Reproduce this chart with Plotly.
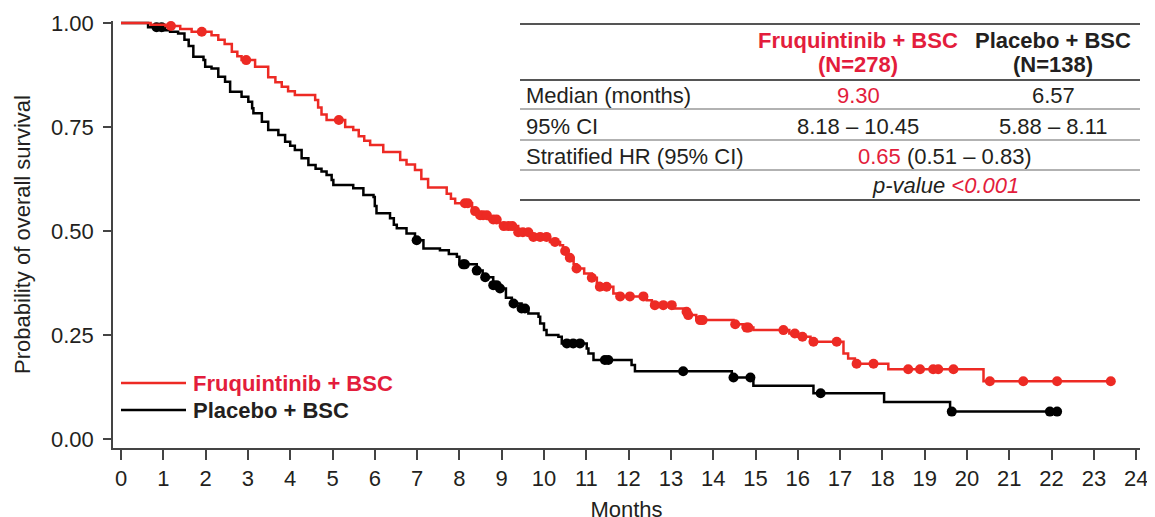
import numpy as np
import plotly.graph_objects as go

# ---------------- data ----------------
# Fruquintinib + BSC: step times (months) and survival after each step
fruq_time = [0, 0.70, 1.05, 1.40, 1.67, 2.14, 2.30, 2.45, 2.62, 2.75, 2.85, 3.17, 3.48, 3.65,
             3.80, 3.95, 4.11, 4.59, 4.66, 4.74, 4.86, 5.30, 5.49, 5.62, 5.75, 5.89, 6.20,
             6.60, 6.75, 6.95, 7.10, 7.26, 7.70, 7.80, 7.90, 8.30, 8.41, 8.70, 8.96, 9.39,
             9.67, 10.14, 10.38, 10.45, 10.54, 10.70, 10.77, 10.95, 11.13, 11.25, 11.32,
             11.64, 11.80, 12.43, 12.55, 13.06, 13.30, 13.41, 13.60, 14.48, 14.70, 14.95,
             15.80, 16.00, 16.30, 17.08, 17.19, 17.35, 18.14, 20.39]
fruq_surv = [1.000, 0.996, 0.993, 0.986, 0.979, 0.971, 0.960, 0.950, 0.931, 0.920, 0.911,
             0.895, 0.870, 0.858, 0.847, 0.836, 0.827, 0.815, 0.797, 0.780, 0.767, 0.750,
             0.743, 0.728, 0.717, 0.707, 0.690, 0.671, 0.660, 0.647, 0.625, 0.605, 0.590,
             0.578, 0.567, 0.548, 0.538, 0.528, 0.512, 0.497, 0.486, 0.474, 0.466, 0.452,
             0.436, 0.420, 0.410, 0.398, 0.388, 0.375, 0.366, 0.350, 0.343, 0.334, 0.322,
             0.314, 0.306, 0.298, 0.286, 0.276, 0.268, 0.262, 0.254, 0.246, 0.234, 0.206,
             0.194, 0.181, 0.168, 0.139]
fruq_end = 23.40
fruq_censor = [1.18, 1.91, 2.96, 5.15, 8.13, 8.20, 8.37, 8.49, 8.56, 8.65, 8.80, 8.88, 9.05,
               9.16, 9.25, 9.39, 9.50, 9.63, 9.75, 9.91, 10.06, 10.26, 10.50, 10.61, 10.77,
               11.13, 11.32, 11.48, 11.80, 12.03, 12.35, 12.62, 12.82, 13.02, 13.37, 13.41,
               13.69, 13.75, 14.52, 14.79, 14.83, 15.66, 15.93, 16.11, 16.37, 16.92, 17.39,
               17.79, 18.61, 18.89, 19.20, 19.32, 19.68, 20.54, 21.33, 22.13, 23.40]

# Placebo + BSC
plac_time = [0, 0.64, 0.98, 1.16, 1.35, 1.50, 1.60, 1.71, 1.95, 1.99, 2.14, 2.30, 2.46, 2.58,
             2.85, 3.01, 3.10, 3.13, 3.33, 3.48, 3.72, 3.88, 4.00, 4.11, 4.27, 4.43, 4.60,
             4.74, 4.86, 4.98, 5.02, 5.49, 5.73, 5.97, 6.00, 6.04, 6.36, 6.45, 6.52, 6.75,
             6.95, 7.15, 7.54, 7.75, 7.94, 8.00, 8.41, 8.55, 8.61, 8.80, 8.92, 9.10, 9.24,
             9.47, 9.63, 9.87, 9.91, 10.00, 10.06, 10.34, 10.42, 11.01, 11.05, 11.17, 12.07,
             12.15, 14.44, 14.95, 16.37, 18.04, 19.60]
plac_surv = [1.000, 0.990, 0.983, 0.979, 0.975, 0.960, 0.945, 0.919, 0.911, 0.895, 0.891,
             0.871, 0.859, 0.835, 0.823, 0.811, 0.795, 0.783, 0.763, 0.743, 0.731, 0.715,
             0.705, 0.695, 0.675, 0.659, 0.650, 0.643, 0.635, 0.623, 0.611, 0.603, 0.587,
             0.582, 0.560, 0.543, 0.531, 0.515, 0.507, 0.494, 0.478, 0.458, 0.454, 0.445,
             0.438, 0.420, 0.405, 0.395, 0.389, 0.370, 0.362, 0.340, 0.326, 0.314, 0.302,
             0.294, 0.278, 0.262, 0.250, 0.246, 0.230, 0.218, 0.206, 0.190, 0.178, 0.163,
             0.148, 0.128, 0.110, 0.089, 0.066]
plac_end = 22.13
plac_censor = [0.84, 0.96, 6.99, 8.09, 8.13, 8.41, 8.61, 8.80, 8.88, 8.96, 9.28, 9.47, 9.55,
               10.54, 10.69, 10.85, 11.44, 11.52, 13.29, 14.48, 14.88, 16.54, 19.64, 21.96,
               22.13]

x_tick_vals = list(range(0, 25))
y_tick_vals = [0.0, 0.25, 0.50, 0.75, 1.00]
y_tick_text = ["0.00", "0.25", "0.50", "0.75", "1.00"]

arm_names = ["Fruquintinib + BSC", "Placebo + BSC"]
arm_n = ["(N=278)", "(N=138)"]
row_labels = ["Median (months)", "95% CI", "Stratified HR (95% CI)"]
median_vals = ["9.30", "6.57"]
ci_vals = ["8.18 – 10.45", "5.88 – 8.11"]
hr_val = "0.65"
hr_ci = "(0.51 – 0.83)"
p_label = "p-value"
p_val = "<0.001"

# ---------------- styling ----------------
RED_LINE = "#ED2A24"
RED_TEXT = "#E31D3C"
BLACK = "#000000"
TXT = "#231F20"
FONT = "Liberation Sans, Arial, Helvetica, sans-serif"
FS = 22

# the page body adds an 8px offset; layout below is given in window pixels
OFF = 8
WIN_W, WIN_H = 1155, 517
W, H = WIN_W - OFF, WIN_H - 3
L, R, T, B = 113, 1140, 21, 448          # plot area in window pixels
PX_PER_MONTH = 42.3
X0_PX = 121
x_lo = (L - X0_PX) / PX_PER_MONTH
x_hi = x_lo + (R - L) / PX_PER_MONTH
y_top = 1.005
y_lo = y_top - (B - T) / 416.0


def px(x):
    return (x - L) / (R - L)


def py(y):
    return (B - y) / (B - T)


def step_value(times, surv, t):
    idx = np.searchsorted(np.asarray(times), t, side="right") - 1
    return np.asarray(surv)[idx]


fig = go.Figure()

for times, surv, end, cens, col in [
    (plac_time, plac_surv, plac_end, plac_censor, BLACK),
    (fruq_time, fruq_surv, fruq_end, fruq_censor, RED_LINE),
]:
    xs = list(times) + [end]
    ys = list(surv) + [surv[-1]]
    fig.add_trace(go.Scatter(x=xs, y=ys, mode="lines", line=dict(color=col, width=2.5, shape="hv"),
                             showlegend=False, hoverinfo="skip"))
    cy = step_value(times, surv, np.asarray(cens))
    fig.add_trace(go.Scatter(x=cens, y=cy, mode="markers",
                             marker=dict(color=col, size=10, line=dict(width=0)),
                             showlegend=False, hoverinfo="skip", cliponaxis=False))

shapes = []
annotations = []

# ---------- table ----------
tx0, tx1 = px(520), 1.0
for yline, colr, w in [(24, "#555555", 2), (80, "#555555", 2), (109, "#999999", 1.5),
                       (140, "#999999", 1.5), (170, "#999999", 1.5), (200, "#555555", 2)]:
    shapes.append(dict(type="line", xref="paper", yref="paper", x0=tx0, x1=tx1,
                       y0=py(yline), y1=py(yline), line=dict(color=colr, width=w)))

col_x = [858, 1053]
merge_x = 945


def ann(text, x, y, color=TXT, xanchor="center", size=FS):
    annotations.append(dict(text=text, x=px(x), y=py(y), xref="paper", yref="paper",
                            xanchor=xanchor, yanchor="middle", showarrow=False,
                            font=dict(family=FONT, size=size, color=color)))


head_colors = [RED_TEXT, TXT]
for i in range(2):
    ann("<b>" + arm_names[i] + "</b>", col_x[i], 40, head_colors[i])
    ann("<b>" + arm_n[i] + "</b>", col_x[i], 64, head_colors[i])

for lab, yy in zip(row_labels, [96, 126, 156]):
    ann(lab, 524, yy, TXT, xanchor="left")

ann(median_vals[0], col_x[0], 96, RED_TEXT)
ann(median_vals[1], col_x[1], 96, TXT)
ann(ci_vals[0], col_x[0], 126, TXT)
ann(ci_vals[1], col_x[1], 126, TXT)
ann(f"<span style='color:{RED_TEXT}'>{hr_val}</span> {hr_ci}", merge_x, 156, TXT)
ann(f"<i>{p_label} <span style='color:{RED_TEXT}'>{p_val}</span></i>", merge_x, 185, TXT)

# ---------- legend ----------
for i, (yy, lc, tc) in enumerate([(383, RED_LINE, RED_TEXT), (410, BLACK, TXT)]):
    shapes.append(dict(type="line", xref="paper", yref="paper", x0=px(121), x1=px(186),
                       y0=py(yy), y1=py(yy), line=dict(color=lc, width=2.5)))
    ann("<b>" + arm_names[i] + "</b>", 191, yy, tc, xanchor="left")

axis_common = dict(showline=True, linecolor="#444444", linewidth=1.5, ticks="outside",
                   tickcolor="#444444", tickwidth=1.5, showgrid=False, zeroline=False,
                   automargin=False,
                   tickfont=dict(family=FONT, size=FS, color=TXT))

fig.update_layout(
    width=W, height=H,
    margin=dict(l=L - OFF, r=WIN_W - R, t=T - OFF, b=H - (B - OFF), autoexpand=False),
    paper_bgcolor="white", plot_bgcolor="white",
    xaxis=dict(range=[x_lo, x_hi], tickvals=x_tick_vals, ticklen=10, ticklabelstandoff=0,
               title=dict(text="Months", font=dict(family=FONT, size=FS, color=TXT), standoff=14),
               **axis_common),
    yaxis=dict(range=[y_lo, y_top], tickvals=y_tick_vals, ticktext=y_tick_text, ticklen=8,
               ticklabelstandoff=5,
               title=dict(text="Probability of overall survival",
                          font=dict(family=FONT, size=FS, color=TXT), standoff=14),
               **axis_common),
    shapes=shapes,
    annotations=annotations,
)

fig.write_html("out.html")
